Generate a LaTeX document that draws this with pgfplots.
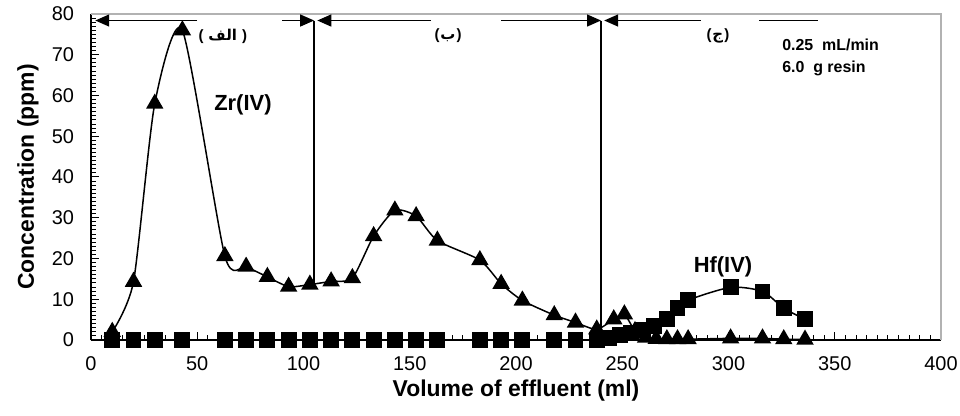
\documentclass[border=0pt]{standalone}
\usepackage{fontspec}
\setmainfont{Liberation Sans}
\newfontfamily\arabicfont[Script=Arabic]{DejaVu Sans}
\TeXXeTstate=1
\usepackage{pgfplots}
\usepackage{pgfplotstable}
\pgfplotsset{compat=1.18}
\usetikzlibrary{arrows.meta}

% Zr(IV) elution
\pgfplotstableread{
x y
10 2
20 14.3
30 58
43 76
63 20.6
73 18
83 15.5
93 13.1
103 13.6
113 14.4
123 15.2
133 25.5
143 31.8
153 30.4
163 24.4
183 19.6
193 13.8
203 9.7
218 6.1
228 4.3
238 2.6
246 5.1
251 6.3
256 2.2
261 0.6
266 0.3
271 0.2
276 0.2
281 0.2
301 0.4
316 0.4
326 0.2
336 0.1
}\zr

% Hf(IV) elution
\pgfplotstableread{
x y
10 0
20 0
30 0
43 0
63 0
73 0
83 0
93 0
103 0
113 0
123 0
133 0
143 0
153 0
163 0
183 0
193 0
203 0
218 0
228 0
238 0
244 0.4
249 1.2
254 1.8
260 2.5
265 3.4
271 5.1
276 7.8
281 9.8
301 12.9
316 11.9
326 7.8
336 5.1
}\hf

\tikzset{sect/.style={line width=0.7bp, -{Triangle[length=7bp,width=6bp]}}}
\newcommand\arlab[2]{\bfseries\fontsize{7.5}{8}\selectfont(\hspace{#2}{\arabicfont\beginR #1\endR}\hspace{#2})}

\begin{document}
\begin{tikzpicture}
\begin{axis}[
    name=ax,
    scale only axis,
    width=425bp,
    height=163bp,
    xmin=0, xmax=400,
    ymin=0, ymax=80,
    xtick={0,50,...,400},
    ytick={0,10,...,80},
    minor x tick num=9,
    minor y tick num=9,
    axis lines=left,
    axis line style={-, black, line width=0.6bp},
    tick align=inside,
    major tick length=4bp,
    minor tick length=2.5bp,
    tick style={black, line width=0.5bp},
    ticklabel style={font=\fontsize{10}{11}\selectfont},
    x tick label style={yshift=-5bp},
    y tick label style={xshift=-5bp},
    /pgf/number format/assume math mode=true,
    xlabel={Volume of effluent (ml)},
    ylabel={Concentration (ppm)},
    label style={font=\bfseries\fontsize{11.5}{13}\selectfont},
    xlabel style={at={([yshift=-25.5bp]axis description cs:0.5,0)}, anchor=center},
    ylabel style={at={([xshift=-31.5bp]axis description cs:0,0.5)}, anchor=center},
    clip=false,
]
\draw[gray!60, line width=0.6bp] (rel axis cs:0,1) -- (rel axis cs:1,1) -- (rel axis cs:1,0);

\addplot[black, line width=0.75bp, smooth, tension=0.4, mark=triangle*, mark size=4.3bp,
    mark options={fill=black}] table[x=x, y=y] {\zr};
\addplot[black, line width=0.75bp, smooth, tension=0.45, mark=square*, mark size=3.6bp,
    mark options={fill=black}] table[x=x, y=y] {\hf};

% section boundaries
\draw[line width=0.7bp] (axis cs:105,78.4) -- (axis cs:105,13.6);
\draw[line width=0.7bp] (axis cs:240,78.4) -- (axis cs:240,2.8);
\draw[sect] (axis cs:50,78.4) -- (axis cs:2,78.4);
\draw[sect] (axis cs:90,78.4) -- (axis cs:105,78.4);
\draw[sect] (axis cs:160,78.4) -- (axis cs:106.5,78.4);
\draw[sect] (axis cs:193,78.4) -- (axis cs:240,78.4);
\draw[sect] (axis cs:287,78.4) -- (axis cs:241.5,78.4);
\draw[line width=0.7bp] (axis cs:314.5,78.4) -- (axis cs:342,78.4);

\node at (axis cs:62,74.6) {\arlab{الف}{2.5bp}};
\node at (axis cs:168,74.6) {\arlab{ب}{0.5bp}};
\node at (axis cs:295,74.6) {\arlab{ج}{0.5bp}};

\node[font=\bfseries\fontsize{8}{9}\selectfont, anchor=west] at (axis cs:322,72.4) {0.25\ \ mL/min};
\node[font=\bfseries\fontsize{8}{9}\selectfont, anchor=west] at (axis cs:322,66.7) {6.0\ \ g resin};

\node[font=\bfseries\fontsize{11}{12}\selectfont] at (axis cs:71.5,57.7) {Zr(IV)};
\node[font=\bfseries\fontsize{11}{12}\selectfont] at (axis cs:297.4,18) {Hf(IV)};
\end{axis}
\pgfresetboundingbox
\path[use as bounding box] ([xshift=-45.5bp,yshift=-38bp]ax.south west) rectangle ([xshift=9.5bp,yshift=7bp]ax.north east);
\end{tikzpicture}
\end{document}
